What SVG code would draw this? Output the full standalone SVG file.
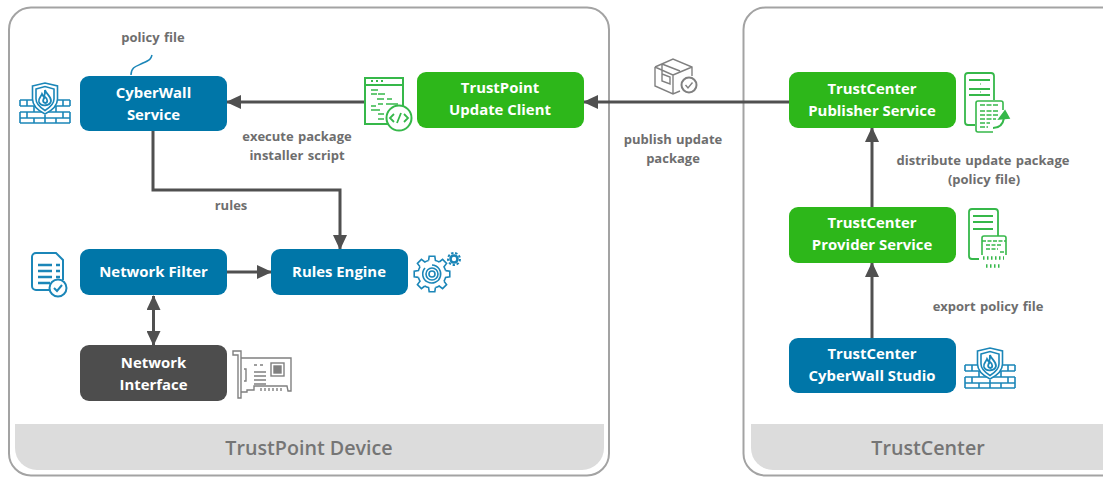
<svg xmlns="http://www.w3.org/2000/svg" width="1103" height="477" viewBox="0 0 1103 477">
<style>
text{font-family:"Open Sans","Noto Sans","Liberation Sans",sans-serif;font-weight:700;text-anchor:middle}
.panel{fill:#fff;stroke:#a3a3a3;stroke-width:2}
.band{fill:#dcdcdc}
.bandt{font-size:19.7px;fill:#757575;font-weight:600}
.node{font-size:14.9px;fill:#fff}
.lab{font-size:13px;fill:#6e6e6e;word-spacing:1px}
.blue{fill:#0076a8}.green{fill:#2db71a}.dark{fill:#4d4d4d}
.con{fill:none;stroke:#505050;stroke-width:3}
.ib{fill:none;stroke:#1b86b8;stroke-width:1.6}
.ig{fill:none;stroke:#36b84a;stroke-width:1.6}
.iy{fill:none;stroke:#808080;stroke-width:1.4}
</style>
<defs>
<marker id="ah" markerUnits="userSpaceOnUse" markerWidth="15" markerHeight="14" refX="14" refY="7" orient="auto-start-reverse"><path d="M0 0L15 7L0 14Z" fill="#505050"/></marker>
<g id="wall" class="ib">
<path d="M0 17H13M37 17H50M0 23H50M0 29H50M0 35H50M0 40H50M0 17V23M50 17V23M0 29V35M50 29V35M0 35V40M50 35V40M7 17V23M43 17V23M14 23V29M36 23V29M7 29V35M25 32V35M43 29V35M14 35V40M25 35V40M36 35V40"/>
<path d="M12.500 3L25 0L37.500 3V16C37.500 23 31 28 25 31C19 28 12.500 23 12.500 16Z" fill="#fff"/>
<path d="M16 6L25 3.500L34 6V16C34 21 29 25 25 27.500C21 25 16 21 16 16Z"/>
<path d="M25 7C26 11 31 13 31 18C30 23 21 24 19 19C18 15 21 14 22 11C23 13 24 14 24 14C25 12 25 9 25 7ZM25 14C23 16 22 19 25 20C28 20 28 16 25 14Z" stroke-width="1.800"/>
</g>
<path id="tooth" d="M-3.390-13.580L-2.820-17.780L2.820-17.780L3.390-13.580A14 14 0 0 1 7.210-12" fill="none"/>
<g id="gear">
<use href="#tooth"/><use href="#tooth" transform="rotate(45)"/><use href="#tooth" transform="rotate(90)"/><use href="#tooth" transform="rotate(135)"/><use href="#tooth" transform="rotate(180)"/><use href="#tooth" transform="rotate(225)"/><use href="#tooth" transform="rotate(270)"/><use href="#tooth" transform="rotate(315)"/>
</g>
</defs>

<g id="panel-left">
<rect class="panel" x="9" y="7.500" width="600" height="468" rx="22"/>
<path class="band" d="M15 424H604V448A22 22 0 0 1 582 470H37A22 22 0 0 1 15 448Z"/>
<text class="bandt" x="309" y="455">TrustPoint Device</text>
</g>
<g id="panel-right">
<rect class="panel" x="743.500" y="7.500" width="400" height="468" rx="22"/>
<path class="band" d="M751 424H1103V470H773A22 22 0 0 1 751 448Z"/>
<text class="bandt" x="928" y="455">TrustCenter</text>
</g>

<g id="connectors">
<path class="con" d="M364 102H227" marker-end="url(#ah)"/>
<path class="con" d="M789 102H584" marker-end="url(#ah)"/>
<path class="con" d="M153 131V190H340V249" marker-end="url(#ah)"/>
<path class="con" d="M227 272H271" marker-end="url(#ah)"/>
<path class="con" d="M153.500 296V345" marker-start="url(#ah)" marker-end="url(#ah)"/>
<path class="con" d="M872 207V128" marker-end="url(#ah)"/>
<path class="con" d="M872 338V263" marker-end="url(#ah)"/>
<path d="M131 75C131 66 138 66 143 63C150 60 151 59 152 55" fill="none" stroke="#1b86b8" stroke-width="1.500"/>
</g>

<g id="cyberwall-service">
<rect class="blue" x="80" y="76" width="147" height="55" rx="9"/>
<text class="node" x="153.500" y="98">CyberWall</text>
<text class="node" x="153.500" y="120">Service</text>
<use href="#wall" transform="translate(20 83)"/>
</g>
<g id="update-client">
<rect class="green" x="417" y="72" width="167" height="56" rx="9"/>
<text class="node" x="500" y="93">TrustPoint</text>
<text class="node" x="500" y="115">Update Client</text>
<g class="ig">
<path d="M388 124H365V78H403V106M365 85H403" stroke-width="2" fill="#fff"/>
<path d="M371 81H373M376 81H378M381 81H383" stroke-width="2"/>
<path d="M371 90H378M371 94H377M378 94H385M377 99H384M387 99H392M378 104H383M386 104H398M371 106H376M371 110H380M378 114H384M378 119H384" stroke-width="1.500"/>
<circle cx="399" cy="118" r="12.500" fill="#fff" stroke-width="2"/>
<path d="M394 114L390 118L394 122M404 114L408 118L404 122M401 113L397 123" stroke-width="1.800"/>
</g>
</g>
<g id="network-filter">
<rect class="blue" x="80" y="249" width="147" height="46" rx="9"/>
<text class="node" x="153.500" y="277">Network Filter</text>
<g class="ib">
<path d="M52 290H36A4 4 0 0 1 32 286V257A4 4 0 0 1 36 253H56L63 260V280" stroke-width="2"/>
<path d="M38 265H52M38 271H52M38 277H52M38 283H50M56 265H60M56 271H60M56 277H60" stroke-width="2.400"/>
<circle cx="58" cy="288" r="8.500" fill="#fff" stroke-width="2"/>
<path d="M54 288L57 291L62 285" stroke-width="2"/>
</g>
</g>
<g id="rules-engine">
<rect class="blue" x="271" y="249" width="137" height="46" rx="9"/>
<text class="node" x="339" y="277">Rules Engine</text>
<g class="ib">
<use href="#gear" transform="translate(432 274)"/>
<path d="M432 265A9 9 0 1 1 425 268"/>
<circle cx="432" cy="274" r="6"/><circle cx="432" cy="274" r="3"/>
<circle cx="454" cy="259" r="3.500" stroke-width="2.600"/>
<circle cx="454" cy="259" r="6" stroke-dasharray="2.400 1.700" stroke-width="2"/>
</g>
</g>
<g id="network-interface">
<rect class="dark" x="80" y="345" width="147" height="56" rx="9"/>
<text class="node" x="153.500" y="368">Network</text>
<text class="node" x="153.500" y="390">Interface</text>
<g class="iy">
<path d="M233 351H241V398H238V355H233ZM241 358H291V391H288L287 386H254V390H247V392H241"/>
<path d="M244 369H246V381H244M254 365H257M260 365H263M254 372H266M254 376H266M254 380H266M254 384H266"/>
<rect x="271" y="363" width="13" height="13"/><rect x="274" y="366" width="7" height="7" fill="#808080"/>
<path d="M261 388V391M265 388V391M269 388V391M273 388V391M277 388V391M281 388V391"/>
</g>
</g>
<g id="package">
<g class="iy" stroke-width="1.500">
<path d="M655 67L673 59L692 67V76M655 67V86L673 94L680 91M655 67L673 75V94M673 75L692 67M662 64L680 71M662 64V74L670 77V84L662 81V74"/>
<circle cx="689" cy="85" r="7.500" stroke-width="2"/>
<path d="M685.500 85L688 88L692.500 82.500"/>
</g>
</g>
<g id="publisher-service">
<rect class="green" x="789" y="72" width="167" height="56" rx="9"/>
<text class="node" x="872" y="94">TrustCenter</text>
<text class="node" x="872" y="116">Publisher Service</text>
<g class="ig">
<path d="M975 125H968A3 3 0 0 1 965 122V76A3 3 0 0 1 968 73H991A3 3 0 0 1 994 76V100" stroke-width="1.800"/>
<path d="M969 80H990M969 89H990M969 95H990" stroke-width="1.800"/>
<path d="M980 84H980.500M980 92H980.500" stroke-width="1.800"/>
<path d="M1003 110V103A2 2 0 0 0 1001 101H978A2 2 0 0 0 976 103V130A2 2 0 0 0 978 132H993" fill="#fff"/>
<path d="M980 105H999M980 111H998M980 115H998M980 119H996M980 123H990M980 127H988" stroke-dasharray="5 1.500"/>
<path d="M993 128C1000 128 1003 124 1004 118" stroke-width="2"/>
<path d="M999 119L1009 118L1005 111Z" fill="#36b84a"/>
</g>
</g>
<g id="provider-service">
<rect class="green" x="789" y="207" width="167" height="56" rx="9"/>
<text class="node" x="872" y="228">TrustCenter</text>
<text class="node" x="872" y="250">Provider Service</text>
<g class="ig">
<path d="M979 259H972A3 3 0 0 1 969 256V212A3 3 0 0 1 972 209H995A3 3 0 0 1 998 212V236" stroke-width="1.800"/>
<path d="M973 216H993M973 222H993M973 229H993" stroke-width="1.800"/>
<path d="M982 255V238A2 2 0 0 1 984 236H1004A2 2 0 0 1 1006 238V255" fill="#fff"/>
<path d="M982 241H1006M986 245H1002M986 249H998M1000 252H1004" stroke-dasharray="4 1.500"/>
<path d="M983 258H1004M986 266H1001" stroke-dasharray="1.500 2.500" stroke-width="3.500"/>
</g>
</g>
<g id="cyberwall-studio">
<rect class="blue" x="789" y="338" width="167" height="55" rx="9"/>
<text class="node" x="872" y="359">TrustCenter</text>
<text class="node" x="872" y="381">CyberWall Studio</text>
<use href="#wall" transform="translate(965 348)"/>
</g>

<g id="labels">
<text class="lab" x="153" y="42">policy file</text>
<text class="lab" x="297" y="141">execute package</text>
<text class="lab" x="297" y="160">installer script</text>
<text class="lab" x="231" y="210">rules</text>
<text class="lab" x="673" y="144">publish update</text>
<text class="lab" x="673" y="163">package</text>
<text class="lab" x="983" y="165">distribute update package</text>
<text class="lab" x="984" y="184">(policy file)</text>
<text class="lab" x="988" y="311">export policy file</text>
</g>
</svg>
